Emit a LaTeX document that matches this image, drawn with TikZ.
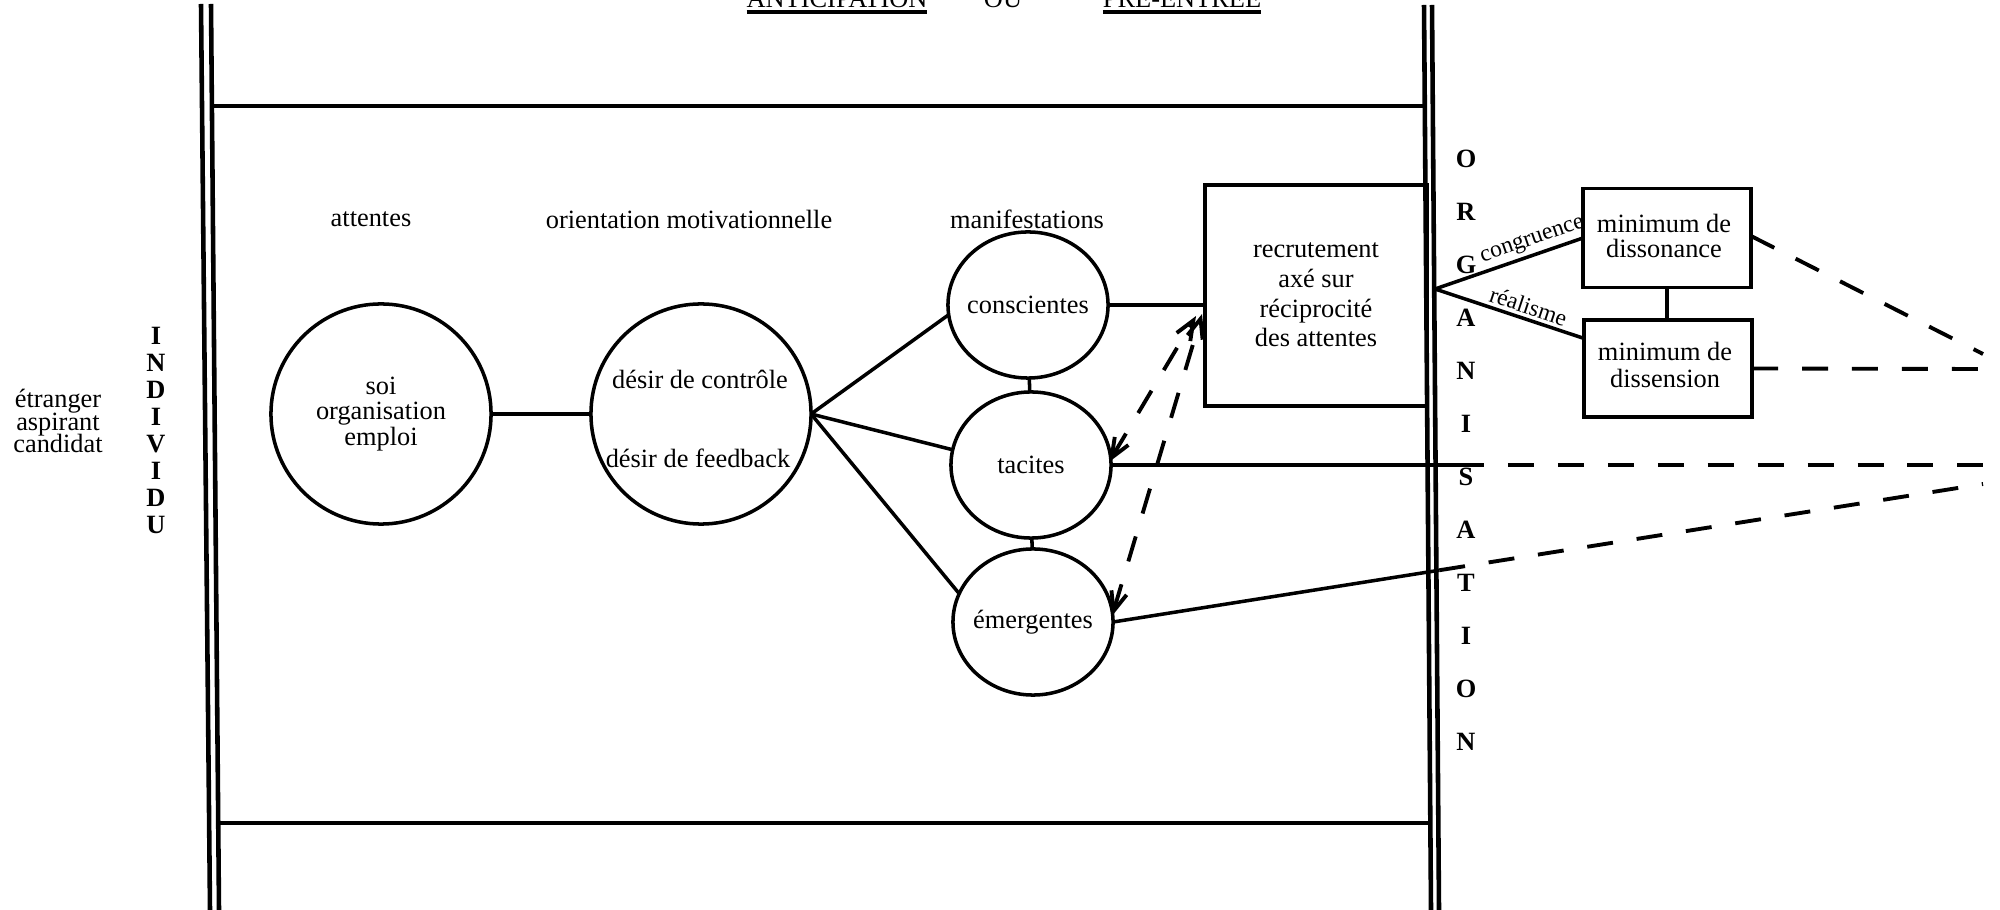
\documentclass[tikz,border=0pt]{standalone}
\usepackage{fontspec}
\setmainfont{Liberation Serif}
\usetikzlibrary{shapes.geometric,arrows.meta,calc}
\newcommand{\tightlines}{\lineskiplimit=-20pt\relax}

\begin{document}
\begin{tikzpicture}[x=0.01cm,y=-0.01cm,
  every node/.style={inner sep=0pt, outer sep=0pt},
  txt/.style={font={\fontsize{7.5pt}{7.5pt}\selectfont\tightlines}, align=center},
  letter/.style={font={\fontsize{7.5pt}{7.5pt}\selectfont\bfseries}},
  lab/.style={font={\fontsize{6.7pt}{6.7pt}\selectfont}, inner sep=1.4pt},
  ln/.style={line width=1pt},
  frameline/.style={line width=0.9pt},
  wall/.style={line width=1.3pt},
  dsh/.style={line width=1.1pt, dash pattern=on 7.4pt off 6.8pt},
  bigc/.style={draw, line width=1pt, circle, minimum size=2.2cm},
  smallc/.style={draw, line width=1pt, ellipse, minimum width=1.6cm, minimum height=1.46cm},
  box/.style={draw, line width=1pt, rectangle},
  barb/.style={{Straight Barb[length=5.5pt,width=4.5pt]}-{Straight Barb[length=5.5pt,width=4.5pt]}},
]
\useasboundingbox (0,0) rectangle (2000,910);

% double walls: individual side and organisation side
\draw[wall] (201,4) -- (210,910);
\draw[wall] (211,4) -- (219,910);
\draw[wall] (1424,5) -- (1431,910);
\draw[wall] (1432,5) -- (1439,910);
% upper and lower limits of the anticipation stage
\draw[frameline] (212,106) -- (1425,106);
\draw[frameline] (218,823) -- (1430,823);

% title
\node[txt, anchor=base] (ant) at (837,8) {ANTICIPATION};
\node[txt, anchor=base] (ou)  at (1003,8) {OU};
\node[txt, anchor=base] (pre) at (1182,8) {PRÉ-ENTRÉE};
\draw[line width=1.1pt] ([yshift=-1.2pt]ant.base west) -- ([yshift=-1.2pt]ant.base east);
\draw[line width=1.1pt] ([yshift=-1.2pt]pre.base west) -- ([yshift=-1.2pt]pre.base east);

% column headers
\node[txt] (hAtt) at (371,219) {attentes};
\node[txt] (hOri) at (689,219) {orientation motivationnelle};
\node[txt] (hMan) at (1027,219) {manifestations};

% individual side
\node[txt, font={\fontsize{7.5pt}{6.3pt}\selectfont\tightlines}] (who) at (58,421) {étranger\\aspirant\\candidat};
\foreach \L [count=\i] in {I,N,D,I,V,I,D,U}
  \node[letter] (ind\i) at (156,{336+27*(\i-1)}) {\L};

% organisation side
\foreach \L [count=\i] in {O,R,G,A,N,I,S,A,T,I,O,N}
  \node[letter] (org\i) at (1466,{159+53*(\i-1)}) {\L};

% expectations and motivational orientation
\node[bigc] (soi) at (381,414) {};
\node[txt, font={\fontsize{7.5pt}{7.3pt}\selectfont\tightlines}] (soiT) at (381,414) {soi\\organisation\\emploi};
\node[bigc] (des) at (701,414) {};
\node[txt] (des1) at (700,379) {désir de contrôle};
\node[txt] (des2) at (698,458) {désir de feedback};
\draw[ln] (soi) -- (des);

% manifestations
\node[smallc] (con) at (1028,305) {};
\node[txt] (conT) at (con) {conscientes};
\node[smallc] (tac) at (1031,465) {};
\node[txt] (tacT) at (tac) {tacites};
\node[smallc] (eme) at (1033,622) {};
\node[txt] (emeT) at (eme) {émergentes};
\draw[ln] (con) -- (tac);
\draw[ln] (tac) -- (eme);
\draw[ln] (des.east) -- (con.187);
\draw[ln] (des.east) -- (tac.169);
\draw[ln] (des.east) -- (eme.159);

% recruitment box
\node[box, minimum width=2.22cm, minimum height=2.21cm] (rec) at (1316,295.5) {};
\node[txt, font={\fontsize{7.5pt}{8.4pt}\selectfont\tightlines}] (recT) at (1316,295) {recrutement\\axé sur\\réciprocité\\des attentes};
\draw[ln] (con.east) -- (con.east -| rec.west);

% dashed two-way links towards the recruitment box
\coordinate (tipA) at (1196,316);
\coordinate (tipB) at (1202,314);
\coordinate (tacTip) at ($(tac.east)+(-2,-3)$);
\coordinate (emeTip) at ($(eme.east)+(-1,-6)$);
\draw[dsh, barb] (tacTip) -- (tipA);
\draw[dsh, barb] (emeTip) -- (tipB);

% outcome boxes
\node[box, minimum width=1.68cm, minimum height=0.99cm] (dso) at (1667,238) {};
\node[txt, font={\fontsize{7.5pt}{7.2pt}\selectfont\tightlines}] (dsoT) at (1664,236) {minimum de\\dissonance};
\node[box, minimum width=1.68cm, minimum height=0.97cm] (dse) at (1668,368.5) {};
\node[txt, font={\fontsize{7.5pt}{7.8pt}\selectfont\tightlines}] (dseT) at (1665,365) {minimum de\\dissension};
\draw[ln] (dso.south) -- (dso.south |- dse.north);

\coordinate (jn) at (1435,289);
\coordinate (dseIn) at ($(dse.north west)!0.19!(dse.south west)$);
\draw[ln] (jn) -- node[lab, sloped, above, pos=0.69] {congruence} (dso.west);
\draw[ln] (jn) -- node[lab, sloped, above, pos=0.6] {réalisme} (dseIn);

% converging dashed lines on the right
\coordinate (dsoOut) at ($(dso.north east)!0.48!(dso.south east)$);
\coordinate (endA) at (1983,354);
\coordinate (endB) at (1983,369);
\coordinate (endC) at (1983,465);
\coordinate (endD) at (1983,484);
\draw[dsh] (dsoOut) -- (endA);
\draw[dsh] (dse.east) -- (endB);

\coordinate (cutC) at (1458,465);
\draw[ln] (tac.east) -- (cutC);
\draw[dsh] (cutC) -- (endC);

\coordinate (cutD) at ($(eme.east)!0.375!(endD)$);
\draw[ln] (eme.east) -- (cutD);
\draw[dsh] (cutD) -- (endD);
\end{tikzpicture}
\end{document}
